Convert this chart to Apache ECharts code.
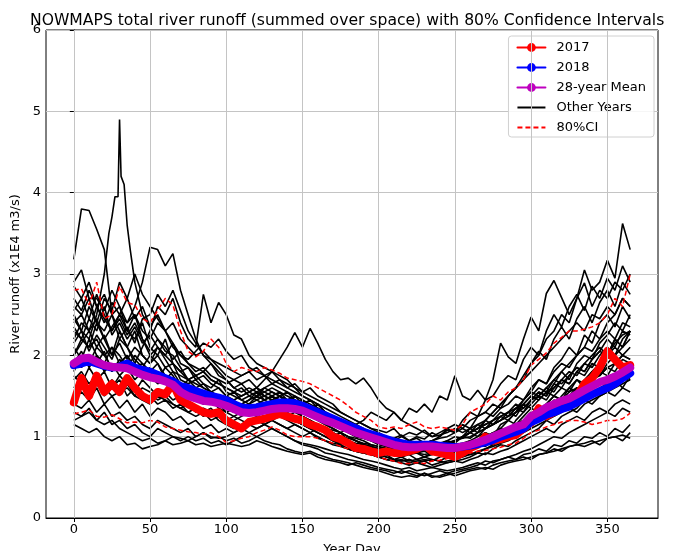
<!DOCTYPE html>
<html>
<head>
<meta charset="utf-8">
<script src="https://cdn.jsdelivr.net/npm/echarts@6/dist/echarts.min.js"></script>
<style>html,body{margin:0;padding:0;background:#fff;}#c{width:676px;height:551px;}</style>
</head>
<body>
<div id="c"></div>
<script>
// ---- tick labels ----
const xTicks = [0, 50, 100, 150, 200, 250, 300, 350];
const yTicks = [0, 1, 2, 3, 4, 5, 6];

// ---- sample days (every 5 days) ----
const days = [0,5,10,15,20,25,30,35,40,45,50,55,60,65,70,75,80,85,90,95,
  100,105,110,115,120,125,130,135,140,145,150,155,160,165,170,175,180,185,190,195,
  200,205,210,215,220,225,230,235,240,245,250,255,260,265,270,275,280,285,290,295,
  300,305,310,315,320,325,330,335,340,345,350,355,360,365];

const y2017 = [1.42,1.72,1.50,1.75,1.55,1.65,1.55,1.72,1.60,1.50,
  1.45,1.55,1.52,1.65,1.45,1.40,1.35,1.30,1.28,1.30,
  1.20,1.15,1.10,1.18,1.20,1.22,1.25,1.28,1.25,1.22,
  1.20,1.15,1.12,1.08,1.00,0.97,0.92,0.86,0.85,0.82,
  0.80,0.82,0.80,0.80,0.82,0.85,0.90,0.82,0.80,0.78,
  0.75,0.80,0.86,0.90,1.00,0.95,0.97,1.00,1.02,1.10,
  1.17,1.35,1.25,1.30,1.35,1.45,1.50,1.65,1.72,1.85,
  2.05,1.95,1.85,1.88];

const y2018 = [1.88,1.90,1.93,1.90,1.87,1.85,1.86,1.90,1.85,1.82,
  1.80,1.76,1.72,1.68,1.62,1.60,1.56,1.53,1.50,1.48,
  1.45,1.40,1.36,1.35,1.36,1.38,1.40,1.42,1.42,1.41,
  1.38,1.34,1.30,1.26,1.22,1.18,1.14,1.10,1.06,1.03,
  1.00,0.97,0.94,0.92,0.90,0.90,0.90,0.90,0.89,0.88,
  0.87,0.88,0.89,0.91,0.93,0.96,1.00,1.03,1.06,1.10,
  1.18,1.22,1.27,1.30,1.34,1.37,1.42,1.47,1.52,1.56,
  1.60,1.65,1.72,1.78];

const yMean = [1.90,1.96,1.97,1.92,1.88,1.86,1.85,1.84,1.80,1.76,
  1.73,1.71,1.68,1.64,1.55,1.50,1.47,1.44,1.43,1.41,
  1.38,1.34,1.30,1.29,1.30,1.32,1.34,1.35,1.35,1.34,
  1.32,1.28,1.24,1.20,1.17,1.13,1.09,1.05,1.02,0.99,
  0.96,0.93,0.90,0.88,0.87,0.87,0.88,0.88,0.87,0.86,
  0.86,0.88,0.90,0.93,0.96,1.00,1.04,1.08,1.12,1.15,
  1.25,1.30,1.36,1.40,1.44,1.47,1.52,1.57,1.62,1.67,
  1.70,1.74,1.79,1.85];

const ciUpper = [2.80,2.82,2.62,2.90,2.45,2.50,2.85,2.65,2.62,2.45,
  2.40,2.55,2.70,2.62,2.30,2.05,1.98,2.05,2.20,2.10,
  1.90,1.80,1.85,1.82,1.80,1.85,1.82,1.78,1.72,1.70,
  1.68,1.65,1.60,1.55,1.50,1.45,1.38,1.30,1.25,1.20,
  1.12,1.10,1.12,1.10,1.15,1.18,1.12,1.10,1.12,1.10,
  1.08,1.15,1.30,1.35,1.40,1.50,1.45,1.55,1.60,1.70,
  1.88,1.95,2.03,2.15,2.22,2.30,2.30,2.32,2.35,2.40,
  2.50,2.70,2.60,3.00];

const ciLower = [1.28,1.30,1.33,1.25,1.24,1.27,1.22,1.17,1.18,1.17,
  1.20,1.18,1.12,1.10,1.08,1.06,1.05,1.03,1.05,1.00,
  0.93,0.95,0.98,1.00,1.05,1.08,1.12,1.08,1.02,1.00,
  1.00,1.00,0.98,0.95,0.92,0.88,0.85,0.83,0.80,0.77,
  0.75,0.72,0.70,0.67,0.67,0.68,0.67,0.70,0.71,0.73,
  0.75,0.78,0.80,0.82,0.83,0.85,0.87,0.90,0.92,0.98,
  1.05,1.08,1.12,1.15,1.18,1.20,1.20,1.18,1.15,1.17,
  1.20,1.20,1.22,1.29];

// ---- other years ----
const spikeDays = [0,5,10,15,20,23,25,27,29,30,31,33,35,37,
  40,45,50,55,60,65,70,75,80,85,90,95,100,105,110,115,120,125,130,135,
  140,145,150,155,160,165,170,175,180,185,190,195,200,205,210,215,220,225,230,235,
  240,245,250,255,260,265,270,275,280,285,290,295,300,305,310,315,320,325,330,335,
  340,345,350,355,360,365];
const spikeVals = [2.5,2.3,2.2,2.5,3.0,3.5,3.7,3.95,3.95,4.9,4.2,4.1,3.6,3.3,
  2.9,2.5,2.35,2.2,2.05,2.0,1.85,1.7,1.65,1.6,
  1.55,1.5,1.42,1.35,1.4,1.45,1.5,1.55,1.6,1.55,
  1.5,1.45,1.4,1.35,1.3,1.25,1.2,1.15,1.1,1.05,
  1.0,0.98,0.95,0.92,0.9,0.88,0.9,0.88,0.85,0.88,
  0.9,0.95,0.92,1.0,1.05,1.1,1.15,1.2,1.3,1.25,
  1.35,1.45,1.55,1.5,1.6,1.7,1.65,1.75,1.85,1.8,
  1.95,2.05,2.0,2.15,2.25,2.3];

const other01 = [3.18,3.80,3.78,3.55,3.30,2.50,2.30,2.10,1.95,1.85,
 2.00,1.90,1.75,1.70,1.55,1.50,1.45,1.52,1.45,1.40,
 1.30,1.25,1.30,1.35,1.40,1.45,1.40,1.50,1.45,1.40,
 1.35,1.30,1.25,1.20,1.15,1.10,1.05,1.00,0.98,0.95,
 0.90,0.88,0.85,0.82,0.85,0.80,0.82,0.78,0.80,0.82,
 0.85,0.90,0.88,0.95,1.00,1.05,1.10,1.05,1.15,1.20,
 1.30,1.25,1.40,1.50,1.45,1.60,1.55,1.70,1.80,1.75,
 1.90,2.00,2.10,2.20];
const other02 = [2.2,2.4,2.3,2.6,2.45,2.3,2.5,2.4,2.6,2.9,
 3.33,3.3,3.1,3.25,2.8,2.5,2.2,2.0,1.9,1.8,
 1.7,1.6,1.55,1.6,1.55,1.5,1.45,1.5,1.4,1.35,
 1.3,1.25,1.2,1.15,1.1,1.05,1.0,0.95,0.92,0.9,
 0.88,0.85,0.83,0.8,0.82,0.8,0.78,0.8,0.82,0.85,
 0.88,0.9,0.95,1.0,1.05,1.0,1.1,1.2,1.15,1.25,
 1.35,1.3,1.4,1.5,1.45,1.55,1.6,1.5,1.65,1.7,
 1.6,1.75,1.8,1.7];
const other03 = [2.0,2.2,2.1,2.4,2.2,2.0,2.3,2.1,1.9,2.1,
 2.3,2.6,2.5,2.7,2.4,2.2,2.1,2.75,2.4,2.65,
 2.5,2.25,2.2,2.0,1.9,1.85,1.8,1.75,1.7,1.6,
 1.5,1.45,1.4,1.3,1.25,1.2,1.15,1.1,1.05,1.0,
 0.95,0.9,0.92,0.88,0.85,0.9,0.88,0.85,0.9,0.92,
 0.95,1.0,0.98,1.05,1.1,1.15,1.2,1.25,1.3,1.35,
 1.45,1.5,1.6,1.55,1.7,1.65,1.8,1.75,1.9,1.85,
 2.0,2.1,2.0,2.1];
const other04 = [1.8,2.0,1.9,2.1,2.0,1.85,1.9,2.0,1.8,1.75,
 1.7,1.8,1.75,1.65,1.6,1.7,1.75,1.8,1.7,1.65,
 1.6,1.55,1.5,1.55,1.6,1.7,1.8,1.95,2.1,2.28,
 2.1,2.33,2.15,1.95,1.8,1.7,1.72,1.65,1.72,1.6,
 1.45,1.35,1.3,1.2,1.15,1.1,1.05,1.0,1.02,1.05,
 1.1,1.05,1.1,1.15,1.1,1.2,1.25,1.2,1.3,1.4,
 1.35,1.45,1.55,1.5,1.6,1.55,1.7,1.65,1.8,1.75,
 1.85,1.9,2.0,1.95];
const other05 = [1.5,1.6,1.55,1.7,1.6,1.5,1.55,1.6,1.5,1.45,
 1.4,1.5,1.45,1.4,1.35,1.4,1.3,1.35,1.3,1.25,
 1.2,1.25,1.2,1.15,1.2,1.25,1.2,1.15,1.1,1.15,
 1.1,1.05,1.1,1.05,1.0,1.05,1.1,1.15,1.2,1.3,
 1.25,1.2,1.3,1.2,1.35,1.3,1.4,1.3,1.5,1.45,
 1.75,1.5,1.45,1.57,1.45,1.7,2.15,1.98,1.9,2.2,
 2.47,2.3,2.76,2.92,2.71,2.5,2.7,2.89,2.6,2.8,
 2.7,2.9,2.8,3.0];
const other06 = [2.6,2.5,2.7,2.4,2.3,2.5,2.2,2.1,2.3,2.0,
 1.9,2.1,2.0,1.9,1.8,1.7,1.75,1.65,1.6,1.7,
 1.55,1.5,1.45,1.5,1.45,1.4,1.45,1.35,1.3,1.35,
 1.25,1.2,1.15,1.1,1.05,1.0,0.98,0.95,0.9,0.88,
 0.85,0.82,0.8,0.85,0.82,0.8,0.85,0.9,0.88,0.92,
 0.95,1.0,1.1,1.05,1.2,1.3,1.4,1.5,1.6,1.7,
 1.9,2.0,2.2,2.3,2.5,2.4,2.7,3.05,2.8,2.9,
 3.17,2.95,3.62,3.3];
const other07 = [2.85,2.7,2.9,2.6,2.75,2.5,2.6,2.4,2.5,2.3,
 2.2,2.4,2.3,2.1,2.0,1.9,1.85,1.8,1.9,1.75,
 1.7,1.6,1.65,1.55,1.6,1.5,1.55,1.5,1.45,1.4,
 1.45,1.35,1.3,1.25,1.2,1.15,1.1,1.05,1.0,0.98,
 0.95,0.9,0.92,0.88,0.9,0.85,0.88,0.9,0.85,0.88,
 0.9,0.92,0.95,0.9,1.0,1.05,1.0,1.1,1.15,1.2,
 1.3,1.25,1.35,1.45,1.4,1.5,1.6,1.55,1.7,1.8,
 1.75,1.9,2.0,1.95];
const other08 = [2.4,2.5,2.3,2.45,2.2,2.35,2.5,2.3,2.2,2.4,
 2.1,2.0,2.2,1.9,1.8,1.85,1.7,1.75,1.65,1.6,
 1.5,1.55,1.45,1.4,1.5,1.45,1.5,1.55,1.45,1.5,
 1.4,1.35,1.4,1.3,1.25,1.2,1.1,1.15,1.05,1.0,
 0.95,0.98,0.92,0.95,0.9,0.85,0.9,0.88,0.92,0.9,
 0.95,0.98,1.0,1.05,1.1,1.15,1.2,1.3,1.25,1.4,
 1.5,1.6,1.55,1.7,1.8,1.9,2.0,2.1,2.3,2.2,
 2.4,2.5,2.7,2.6];
const other09 = [2.1,1.95,2.2,2.0,1.9,2.1,2.0,1.85,2.0,1.9,
 1.8,1.7,1.85,1.75,1.6,1.55,1.5,1.45,1.5,1.4,
 1.35,1.3,1.35,1.4,1.45,1.5,1.45,1.4,1.45,1.35,
 1.3,1.25,1.2,1.15,1.1,1.05,1.0,0.95,0.9,0.88,
 0.85,0.8,0.78,0.75,0.78,0.72,0.75,0.8,0.78,0.75,
 0.8,0.82,0.85,0.9,0.88,0.95,1.0,1.05,1.1,1.2,
 1.25,1.3,1.4,1.35,1.5,1.6,1.7,1.6,1.8,1.9,
 2.0,2.2,2.1,2.3];
const other10 = [1.7,1.8,1.65,1.75,1.6,1.7,1.55,1.65,1.5,1.6,
 1.55,1.45,1.5,1.4,1.35,1.3,1.25,1.3,1.2,1.25,
 1.15,1.1,1.15,1.2,1.25,1.3,1.35,1.3,1.25,1.2,
 1.15,1.1,1.05,1.0,0.98,0.95,0.9,0.85,0.82,0.8,
 0.78,0.75,0.72,0.7,0.72,0.68,0.7,0.72,0.7,0.68,
 0.7,0.72,0.75,0.8,0.78,0.85,0.9,0.88,0.95,1.0,
 1.05,1.1,1.2,1.15,1.25,1.3,1.35,1.45,1.4,1.5,
 1.55,1.6,1.65,1.7];
const other11 = [1.3,1.25,1.35,1.2,1.3,1.15,1.2,1.1,1.15,1.05,
 1.0,1.1,1.05,1.0,0.95,1.0,0.95,0.98,0.92,0.95,
 0.9,0.95,1.0,1.05,1.1,1.15,1.1,1.05,1.0,0.95,
 0.92,0.9,0.88,0.85,0.82,0.8,0.78,0.75,0.72,0.7,
 0.68,0.65,0.62,0.6,0.62,0.58,0.6,0.62,0.6,0.58,
 0.6,0.62,0.65,0.68,0.65,0.7,0.72,0.75,0.72,0.78,
 0.8,0.85,0.82,0.9,0.88,0.95,0.92,1.0,0.98,1.05,
 1.0,1.1,1.05,1.15];
const other12 = [1.15,1.1,1.05,1.1,1.0,0.95,1.0,0.9,0.92,0.85,
 0.88,0.9,0.95,0.9,0.92,0.95,0.9,0.92,0.88,0.9,
 0.92,0.9,0.88,0.9,0.95,0.92,0.88,0.85,0.82,0.8,
 0.78,0.8,0.75,0.72,0.7,0.68,0.65,0.68,0.65,0.62,
 0.6,0.58,0.55,0.58,0.55,0.52,0.55,0.5,0.52,0.55,
 0.52,0.55,0.58,0.6,0.62,0.6,0.65,0.68,0.7,0.72,
 0.75,0.78,0.8,0.82,0.85,0.88,0.9,0.88,0.92,0.95,
 0.98,1.0,0.95,1.05];
const other13 = [1.5,1.55,1.45,1.6,1.4,1.5,1.35,1.45,1.3,1.4,
 1.25,1.35,1.3,1.2,1.25,1.15,1.2,1.1,1.15,1.05,
 1.1,1.05,1.1,1.15,1.2,1.15,1.2,1.25,1.2,1.15,
 1.1,1.05,1.0,0.95,0.92,0.9,0.85,0.82,0.8,0.78,
 0.75,0.72,0.7,0.68,0.65,0.68,0.65,0.62,0.65,0.68,
 0.7,0.68,0.72,0.75,0.8,0.78,0.82,0.85,0.9,0.95,
 1.0,1.05,1.1,1.05,1.15,1.2,1.25,1.2,1.3,1.35,
 1.3,1.4,1.45,1.4];
const other14 = [2.3,2.2,2.1,2.2,2.0,2.1,1.9,2.0,1.85,1.9,
 1.8,1.9,1.7,1.8,1.65,1.6,1.55,1.5,1.55,1.45,
 1.4,1.45,1.35,1.4,1.3,1.35,1.3,1.25,1.3,1.2,
 1.15,1.2,1.1,1.05,1.0,1.05,0.95,0.92,0.9,0.88,
 0.85,0.88,0.82,0.85,0.8,0.85,0.82,0.88,0.85,0.9,
 0.95,1.0,1.05,1.1,1.2,1.3,1.4,1.5,1.6,1.7,
 1.8,1.9,2.0,2.1,2.2,2.3,2.4,2.3,2.5,2.45,
 2.6,2.5,2.7,2.6];
const other15 = [1.9,2.05,1.85,2.0,1.8,1.9,1.75,1.85,1.7,1.8,
 1.75,1.65,1.7,1.6,1.65,1.55,1.6,1.5,1.45,1.5,
 1.4,1.35,1.4,1.45,1.55,1.6,1.65,1.6,1.55,1.5,
 1.45,1.4,1.35,1.3,1.25,1.2,1.15,1.1,1.05,1.0,
 1.0,0.95,0.92,0.9,0.95,0.92,0.9,0.95,0.92,0.95,
 1.0,0.98,1.05,1.1,1.15,1.2,1.25,1.3,1.35,1.4,
 1.5,1.45,1.55,1.6,1.7,1.65,1.8,1.9,1.85,2.0,
 2.1,2.0,2.2,2.3];
const other16 = [1.4,1.35,1.45,1.3,1.4,1.25,1.3,1.2,1.25,1.15,
 1.1,1.2,1.15,1.1,1.05,1.1,1.0,1.05,0.98,1.0,
 0.95,0.98,0.92,0.95,1.0,1.05,1.1,1.05,1.0,0.95,
 0.9,0.88,0.85,0.8,0.78,0.75,0.72,0.7,0.68,0.65,
 0.62,0.6,0.58,0.55,0.58,0.55,0.52,0.55,0.58,0.55,
 0.58,0.6,0.62,0.65,0.7,0.68,0.72,0.75,0.78,0.82,
 0.85,0.9,0.95,1.0,0.98,1.05,1.1,1.15,1.2,1.25,
 1.3,1.25,1.35,1.3];
const other17 = [2.9,3.05,2.7,2.7,2.55,2.8,2.6,2.3,2.5,2.2,
 2.0,2.1,1.95,1.8,1.75,1.7,1.6,1.65,1.55,1.5,
 1.45,1.4,1.35,1.4,1.35,1.3,1.35,1.3,1.25,1.3,
 1.25,1.2,1.15,1.1,1.08,1.05,1.0,0.98,0.95,0.9,
 0.88,0.85,0.82,0.8,0.78,0.8,0.75,0.78,0.8,0.78,
 0.8,0.82,0.85,0.88,0.92,0.9,0.95,1.0,1.05,1.1,
 1.15,1.2,1.3,1.25,1.35,1.4,1.45,1.5,1.55,1.6,
 1.65,1.7,1.6,1.75];
const other18 = [1.6,1.7,1.55,1.65,1.5,1.6,1.7,1.5,1.6,1.45,
 1.5,1.4,1.45,1.35,1.4,1.3,1.35,1.25,1.3,1.2,
 1.15,1.2,1.25,1.3,1.35,1.4,1.35,1.3,1.25,1.2,
 1.15,1.1,1.05,1.0,0.95,0.9,0.85,0.82,0.8,0.78,
 0.75,0.72,0.7,0.72,0.68,0.7,0.72,0.7,0.75,0.78,
 0.8,0.85,0.82,0.9,0.95,1.0,1.1,1.05,1.2,1.3,
 1.4,1.5,1.45,1.6,1.7,1.8,1.75,1.9,2.0,2.1,
 2.0,2.2,2.1,2.3];
const other19 = [2.0,2.15,2.3,2.1,2.25,2.0,2.15,1.95,2.1,2.0,
 1.9,2.0,1.85,1.9,1.7,1.65,1.7,1.6,1.55,1.6,
 1.5,1.45,1.5,1.55,1.5,1.6,1.55,1.5,1.55,1.45,
 1.4,1.45,1.35,1.3,1.25,1.2,1.15,1.1,1.05,1.0,
 1.0,0.98,0.95,1.0,0.95,0.98,0.92,0.95,0.98,1.0,
 1.05,1.1,1.05,1.15,1.2,1.15,1.25,1.3,1.4,1.35,
 1.45,1.55,1.5,1.65,1.6,1.75,1.85,1.8,1.95,2.05,
 2.2,2.1,2.3,2.25];
const other20 = [1.2,1.25,1.3,1.2,1.15,1.2,1.1,1.05,1.0,0.95,
 0.98,0.92,0.95,1.0,0.98,0.95,1.0,1.05,1.0,0.98,
 1.0,1.05,1.1,1.05,1.0,0.95,0.92,0.9,0.85,0.82,
 0.8,0.82,0.78,0.75,0.72,0.7,0.68,0.65,0.62,0.6,
 0.58,0.55,0.52,0.5,0.52,0.5,0.55,0.52,0.5,0.53,
 0.55,0.58,0.6,0.62,0.6,0.65,0.68,0.7,0.72,0.75,
 0.72,0.78,0.8,0.85,0.82,0.88,0.9,0.92,0.95,0.9,
 0.98,1.0,1.02,0.98];
const other21 = [1.75,1.65,1.85,1.7,1.8,1.6,1.75,1.65,1.55,1.7,
 1.6,1.5,1.55,1.45,1.5,1.4,1.35,1.3,1.35,1.25,
 1.2,1.15,1.1,1.15,1.1,1.15,1.2,1.15,1.1,1.05,
 1.0,1.05,0.98,0.95,0.9,0.88,0.85,0.82,0.8,0.78,
 0.75,0.78,0.72,0.75,0.7,0.72,0.75,0.72,0.7,0.75,
 0.78,0.8,0.78,0.82,0.85,0.88,0.92,0.95,1.0,1.05,
 1.1,1.15,1.2,1.25,1.3,1.35,1.3,1.4,1.45,1.5,
 1.55,1.5,1.6,1.55];
const other22 = [2.7,2.55,2.8,2.6,2.4,2.65,2.5,2.7,2.45,2.6,
 2.35,2.5,2.3,2.4,2.2,2.1,2.0,2.05,1.95,1.9,
 1.85,1.8,1.75,1.8,1.7,1.75,1.65,1.7,1.6,1.65,
 1.55,1.5,1.45,1.4,1.35,1.3,1.25,1.2,1.15,1.1,
 1.05,1.0,0.98,1.02,0.95,1.0,0.97,1.05,1.0,1.08,
 1.05,1.15,1.1,1.25,1.3,1.4,1.35,1.5,1.6,1.75,
 1.9,2.05,1.95,2.2,2.35,2.2,2.45,2.6,2.4,2.65,
 2.8,2.6,2.9,2.75];
const other23 = [2.35,2.2,2.45,2.3,2.6,2.25,2.4,2.2,2.35,2.15,
 2.25,2.1,2.0,2.15,1.9,1.85,1.75,1.8,1.7,1.65,
 1.6,1.55,1.6,1.5,1.55,1.45,1.5,1.4,1.45,1.35,
 1.3,1.35,1.25,1.2,1.15,1.1,1.05,1.0,0.98,0.95,
 0.92,0.9,0.88,0.85,0.88,0.9,0.85,0.82,0.85,0.8,
 0.85,0.88,0.92,0.95,1.05,1.0,1.15,1.2,1.3,1.45,
 1.55,1.7,1.65,1.85,1.95,2.1,2.0,2.25,2.15,2.4,
 2.5,2.35,2.6,2.45];
const other24 = [2.45,2.3,2.6,2.4,2.7,2.55,2.9,2.7,3.0,2.75,
 2.6,2.45,2.3,2.15,2.0,1.95,2.05,2.15,2.1,2.2,
 2.05,1.95,2.0,1.85,1.8,1.75,1.7,1.65,1.6,1.55,
 1.5,1.45,1.4,1.35,1.3,1.25,1.2,1.15,1.1,1.05,
 1.0,0.97,0.95,0.92,0.95,0.9,0.92,0.95,0.9,0.93,
 0.95,1.0,1.05,1.0,1.1,1.15,1.2,1.25,1.35,1.3,
 1.45,1.55,1.5,1.65,1.8,1.7,1.9,2.0,1.95,2.15,
 2.25,2.4,2.3,2.5];
const other25 = [2.15,2.3,2.05,2.25,2.1,1.95,2.2,2.35,2.15,2.45,
 2.5,2.75,2.6,2.8,2.55,2.3,2.15,2.0,1.95,1.85,
 1.75,1.7,1.65,1.7,1.6,1.55,1.5,1.45,1.4,1.35,
 1.25,1.2,1.15,1.1,1.05,1.0,0.95,0.9,0.85,0.82,
 0.78,0.75,0.72,0.7,0.72,0.68,0.7,0.65,0.68,0.7,
 0.72,0.75,0.78,0.8,0.85,0.9,0.95,1.0,1.05,1.1,
 1.2,1.25,1.35,1.3,1.45,1.5,1.6,1.55,1.7,1.75,
 1.85,1.8,1.95,1.9];
const other26 = [1.95,1.85,2.0,1.9,2.05,1.8,1.95,1.85,1.9,1.75,
 1.85,1.7,1.75,1.65,1.55,1.5,1.45,1.4,1.45,1.35,
 1.3,1.35,1.3,1.4,1.35,1.3,1.25,1.3,1.25,1.2,
 1.15,1.1,1.05,1.0,0.95,0.92,0.9,0.88,0.85,0.82,
 0.8,0.78,0.82,0.8,0.85,0.88,0.92,0.95,1.0,1.1,
 1.05,1.2,1.3,1.25,1.45,1.5,1.65,1.75,1.7,1.95,
 2.1,2.0,2.3,2.5,2.35,2.6,2.75,2.55,2.85,2.7,
 2.95,2.8,3.1,2.9];
const other27 = [2.55,2.7,2.45,2.75,2.5,2.3,2.45,2.25,2.4,2.2,
 2.05,2.2,2.1,1.95,2.05,1.9,1.8,1.85,1.75,1.7,
 1.65,1.7,1.75,1.8,1.85,1.75,1.8,1.7,1.65,1.6,
 1.55,1.6,1.5,1.45,1.4,1.3,1.25,1.2,1.15,1.1,
 1.08,1.05,1.1,1.0,1.05,1.02,1.08,1.0,1.05,1.1,
 1.15,1.1,1.2,1.25,1.3,1.25,1.35,1.4,1.5,1.45,
 1.6,1.7,1.65,1.8,1.9,1.85,2.0,2.1,2.05,2.2,
 2.3,2.2,2.4,2.35];

const otherYears = [other01, other02, other03, other04, other05, other06, other07,
  other08, other09, other10, other11, other12, other13, other14, other15, other16,
  other17, other18, other19, other20, other21, other22, other23, other24, other25,
  other26, other27];

// ---- build ----
const FONT = 'DejaVu Sans';
function pairs(xs, ys) { return xs.map((x, i) => [x, ys[i]]); }

const series = [];
// vertical grid lines
series.push({
  type: 'line', data: [], z: 1, silent: true,
  markLine: {
    silent: true, symbol: ['none', 'none'], label: { show: false },
    lineStyle: { color: '#c4c4c4', width: 1, type: 'solid' },
    data: xTicks.map(v => ({ xAxis: v }))
  }
});
otherYears.forEach(vals => {
  series.push({
    name: 'Other Years', type: 'line', data: pairs(days, vals), symbol: 'none',
    lineStyle: { color: '#000', width: 1.6 }, itemStyle: { color: '#000' }, z: 2
  });
});
series.push({
  name: 'Other Years', type: 'line', data: pairs(spikeDays, spikeVals), symbol: 'none',
  lineStyle: { color: '#000', width: 1.6 }, itemStyle: { color: '#000' }, z: 2
});
[ciUpper, ciLower].forEach(vals => {
  series.push({
    name: '80%CI', type: 'line', data: pairs(days, vals), symbol: 'none',
    lineStyle: { color: '#ff0000', width: 1.5, type: [5, 3] }, itemStyle: { color: '#ff0000' }, z: 3
  });
});
function thick(name, vals, color, z) {
  return {
    name: name, type: 'line', data: pairs(days, vals), symbol: 'circle', symbolSize: 8,
    showSymbol: false,
    lineStyle: { color: color, width: 8, cap: 'round', join: 'round' },
    itemStyle: { color: color }, z: z
  };
}
series.push(thick('2017', y2017, '#ff0000', 4));
series.push(thick('2018', y2018, '#0000ff', 5));
series.push(thick('28-year Mean', yMean, '#bf00bf', 6));

const noMarker = { color: 'rgba(0,0,0,0)', borderWidth: 0, opacity: 0 };

const chart = echarts.init(document.getElementById('c'), null, { renderer: 'canvas' });
chart.setOption({
  animation: false,
  backgroundColor: '#fff',
  title: {
    text: 'NOWMAPS total river runoff (summed over space) with 80% Confidence Intervals',
    left: 25, top: 8,
    textStyle: { fontFamily: FONT, fontSize: 15.6, fontWeight: 'normal', color: '#000' }
  },
  grid: { left: 46, right: 18, top: 30, bottom: 33, show: true, borderColor: '#000', borderWidth: 1,
    backgroundColor: 'transparent', outerBoundsMode: 'none', containLabel: false },
  legend: {
    data: ['2017', '2018', '28-year Mean',
      { name: 'Other Years', itemStyle: noMarker },
      { name: '80%CI', itemStyle: noMarker }],
    orient: 'vertical', right: 22, top: 36,
    itemWidth: 28, itemHeight: 11, itemGap: 5,
    padding: [4, 8, 2, 8],
    backgroundColor: 'rgba(255,255,255,0.85)', borderColor: '#d0d0d0', borderWidth: 1, borderRadius: 3,
    lineStyle: { width: 2 },
    textStyle: { fontFamily: FONT, fontSize: 13, color: '#000', lineHeight: 15, padding: [0, 0, 0, 6] }
  },
  xAxis: {
    type: 'value', min: -18.25, max: 383.25,
    name: 'Year Day', nameLocation: 'middle', nameGap: 25,
    nameTextStyle: { fontFamily: FONT, fontSize: 13, color: '#000' },
    axisLine: { show: true, onZero: false, lineStyle: { color: '#000', width: 1 } },
    axisTick: { show: true, customValues: xTicks, length: 4, lineStyle: { color: '#000' } },
    axisLabel: { customValues: xTicks, fontFamily: FONT, fontSize: 13, color: '#000', margin: 5 },
    splitLine: { show: false }
  },
  yAxis: {
    type: 'value', min: 0, max: 6, interval: 1,
    name: 'River runoff (x1E4 m3/s)', nameLocation: 'middle', nameGap: 17,
    nameTextStyle: { fontFamily: FONT, fontSize: 13, color: '#000' },
    axisLine: { show: true, lineStyle: { color: '#000', width: 1 } },
    axisTick: { show: true, length: 4, lineStyle: { color: '#000' } },
    axisLabel: { fontFamily: FONT, fontSize: 13, color: '#000', margin: 5,
      formatter: v => yTicks.includes(v) ? String(v) : '' },
    splitLine: { show: true, lineStyle: { color: '#c4c4c4', width: 1 } }
  },
  series: series
});
</script>
</body>
</html>
